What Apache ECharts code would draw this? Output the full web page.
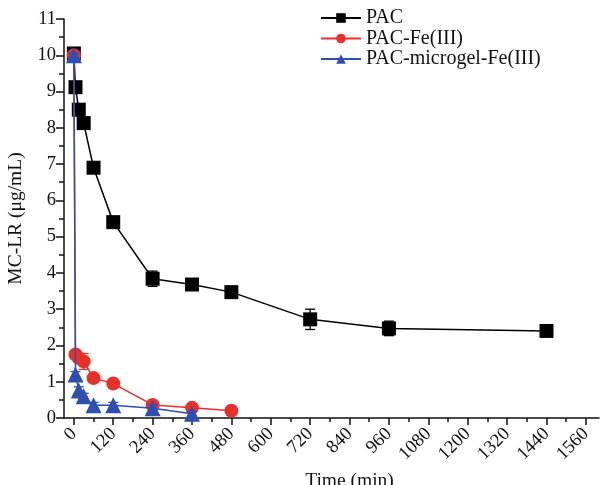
<!DOCTYPE html>
<html><head><meta charset="utf-8">
<script src="https://cdn.jsdelivr.net/npm/echarts@6/dist/echarts.min.js"></script>
<style>html,body{margin:0;padding:0;background:#fff}#c{width:600px;height:485px}</style>
</head><body><div id="c"></div>
<script>
var seriesNames = ['PAC', 'PAC-Fe(III)', 'PAC-microgel-Fe(III)'];
var timePAC = [0, 5, 15, 30, 60, 120, 240, 360, 480, 720, 960, 1440];
var valPAC  = [10.05, 9.12, 8.5, 8.13, 6.9, 5.4, 3.84, 3.68, 3.47, 2.72, 2.47, 2.4];
var errPAC  = [0.05, 0.06, 0.16, 0.05, 0.05, 0.05, 0.21, 0.12, 0.13, 0.28, 0.2, 0.05];
var timeFe = [0, 5, 15, 30, 60, 120, 240, 360, 480];
var valFe  = [10.0, 1.75, 1.65, 1.56, 1.1, 0.95, 0.36, 0.28, 0.2];
var errFe  = [0.05, 0.05, 0.08, 0.22, 0.05, 0.05, 0.05, 0.05, 0.03];
var timeMg = [0, 5, 15, 30, 60, 120, 240, 360];
var valMg  = [10.0, 1.2, 0.76, 0.6, 0.35, 0.35, 0.27, 0.12];
var errMg  = [0.05, 0.08, 0.1, 0.08, 0.08, 0.08, 0.1, 0.06];
var xMajorTicks = [0, 120, 240, 360, 480, 600, 720, 840, 960, 1080, 1200, 1320, 1440, 1560];
var xMinorTicks = [60, 180, 300, 420, 540, 660, 780, 900, 1020, 1140, 1260, 1380, 1500];

var colors = ['#000000', '#e8302a', '#2f4fb0'];
var symbols = ['rect', 'circle', 'triangle'];
var symbolSizes = [14, 14, 16];
var FONT = '"Liberation Serif", "Times New Roman", serif';

function pairs(t, v) { return t.map(function (x, i) { return [x, v[i]]; }); }
function errData(t, v, e) { return t.map(function (x, i) { return [x, v[i] - e[i], v[i] + e[i]]; }); }

function errSeries(t, v, e, color, z) {
  return {
    type: 'custom', xAxisIndex: 0, yAxisIndex: 0, z: z, silent: true,
    data: errData(t, v, e),
    renderItem: function (params, api) {
      var x = api.value(0);
      var lo = api.coord([x, api.value(1)]);
      var hi = api.coord([x, api.value(2)]);
      var w = 5;
      var st = { stroke: color, lineWidth: 1.3 };
      return { type: 'group', children: [
        { type: 'line', shape: { x1: lo[0], y1: lo[1], x2: hi[0], y2: hi[1] }, style: st },
        { type: 'line', shape: { x1: lo[0] - w, y1: lo[1], x2: lo[0] + w, y2: lo[1] }, style: st },
        { type: 'line', shape: { x1: hi[0] - w, y1: hi[1], x2: hi[0] + w, y2: hi[1] }, style: st }
      ]};
    }
  };
}

var data = [pairs(timePAC, valPAC), pairs(timeFe, valFe), pairs(timeMg, valMg)];
var series = [];
[[timePAC, valPAC, errPAC], [timeFe, valFe, errFe], [timeMg, valMg, errMg]].forEach(function (d, i) {
  series.push(errSeries(d[0], d[1], d[2], colors[i], 2 + i * 2));
  series.push({
    name: seriesNames[i], type: 'line', data: data[i], z: 3 + i * 2,
    symbol: symbols[i], symbolSize: symbolSizes[i], showSymbol: true,
    lineStyle: { color: colors[i], width: 1.5 },
    itemStyle: { color: colors[i], borderWidth: 0 },
    emphasis: { disabled: true }, animation: false
  });
});

var chart = echarts.init(document.getElementById('c'), null, { renderer: 'canvas' });
chart.setOption({
  animation: false,
  backgroundColor: '#fff',
  grid: { left: 64, right: 1, top: 19, bottom: 67, containLabel: false, outerBoundsMode: 'none' },
  legend: {
    data: seriesNames, orient: 'vertical', left: 320, top: 8, padding: 0,
    itemWidth: 40, itemHeight: 12, itemGap: 0.5,
    textStyle: { fontFamily: FONT, fontSize: 20, lineHeight: 20, color: '#111' }
  },
  xAxis: [{
    type: 'value', min: -30, max: 1600,
    name: 'Time (min)', nameLocation: 'middle', nameGap: 52,
    nameTextStyle: { fontFamily: FONT, fontSize: 19.5, color: '#111', padding: [0, 0, 0, 36] },
    axisLine: { show: true, onZero: false, lineStyle: { color: '#111', width: 1.5 } },
    axisTick: { show: true, inside: false, length: 7, customValues: xMajorTicks, lineStyle: { color: '#111', width: 1.5 } },
    axisLabel: { show: true, rotate: 45, customValues: xMajorTicks, margin: 13, fontFamily: FONT, fontSize: 18.5, color: '#111',
      formatter: function (v) { return String(v); } },
    splitLine: { show: false }
  }, {
    type: 'value', min: -30, max: 1600, position: 'bottom',
    axisLine: { show: false },
    axisTick: { show: true, inside: false, length: 4, customValues: xMinorTicks, lineStyle: { color: '#111', width: 1.5 } },
    axisLabel: { show: false, customValues: xMinorTicks },
    splitLine: { show: false }
  }],
  yAxis: {
    type: 'value', min: 0, max: 11, interval: 1,
    name: 'MC-LR (\u03bcg/mL)', nameLocation: 'middle', nameGap: 38,
    nameTextStyle: { fontFamily: FONT, fontSize: 19.5, color: '#111' },
    axisLine: { show: true, onZero: false, lineStyle: { color: '#111', width: 1.5 } },
    axisTick: { show: true, inside: false, length: 8, lineStyle: { color: '#111', width: 1.5 } },
    minorTick: { show: true, splitNumber: 2, length: 5, lineStyle: { color: '#111', width: 1.5 } },
    axisLabel: { margin: 8, fontFamily: FONT, fontSize: 18.5, color: '#111' },
    splitLine: { show: false }
  },
  series: series
});
</script></body></html>
